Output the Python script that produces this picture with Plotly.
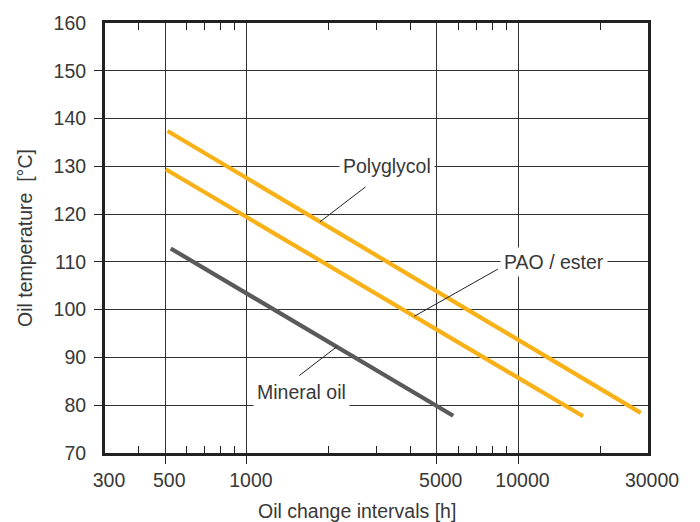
import numpy as np
import plotly.graph_objects as go

# Oil change interval vs. oil temperature for three lubricant families
poly_hours = [510, 28200]
poly_temp = [137.4, 78.4]

pao_hours = [502, 17300]
pao_temp = [129.4, 77.7]

mineral_hours = [524, 5750]
mineral_temp = [112.8, 77.8]

x_tick_vals = [300, 500, 1000, 5000, 10000, 30000]
x_tick_text = ["300", "500", "1000", "5000", "10000", "30000"]
x_major_marks = [500, 1000, 5000, 10000]
x_minor_marks = [400, 600, 700, 800, 900, 2000, 3000, 4000,
                 6000, 7000, 8000, 9000, 20000]
y_tick_vals = [70, 80, 90, 100, 110, 120, 130, 140, 150, 160]
y_major_marks = [80, 90, 100, 110, 120, 130, 140, 150]

ORANGE = "#F8B116"
GREY = "#5a5a5a"
INK = "#222222"
TEXT = "#383838"
FONT = "Liberation Sans, Arial, sans-serif"
FS = 19.5

X_RANGE = [np.log10(300), np.log10(30000)]
Y_RANGE = [70, 160]


def temp_at(hours, temps, h):
    """Temperature on a straight line in log(hours) at interval h."""
    return float(np.interp(np.log10(h), np.log10(hours), temps))


fig = go.Figure()
for hrs, tmp, col in [(poly_hours, poly_temp, ORANGE),
                      (pao_hours, pao_temp, ORANGE),
                      (mineral_hours, mineral_temp, GREY)]:
    fig.add_trace(go.Scatter(x=hrs, y=tmp, mode="lines",
                             line=dict(color=col, width=4.2),
                             showlegend=False, hoverinfo="skip"))

# transparent anchors so the tick-only overlay axes get drawn
for xa, ya in [("x2", "y"), ("x3", "y"), ("x4", "y"), ("x", "y2")]:
    fig.add_trace(go.Scatter(x=[1000], y=[100], xaxis=xa, yaxis=ya,
                             mode="markers", marker=dict(opacity=0),
                             showlegend=False, hoverinfo="skip"))

annotations = []
# series labels sitting on the grid with a white knock-out
labels = [("Polyglycol", 3285, 130), ("PAO / ester", 13540, 110),
          ("Mineral oil", 1591, 82.8)]
for txt, lx, ly in labels:
    annotations.append(dict(x=np.log10(lx), y=ly, xref="x", yref="y",
                            text=txt, showarrow=False, bgcolor="white",
                            borderpad=3, font=dict(family=FONT, size=FS, color=TEXT)))

# leader lines from each label to its curve
leaders = [(poly_hours, poly_temp, 1858, 47, -36),
           (pao_hours, pao_temp, 4133, 85, -48),
           (mineral_hours, mineral_temp, 2141, -39, 30)]
for hrs, tmp, hx, ax, ay in leaders:
    annotations.append(dict(x=np.log10(hx), y=temp_at(hrs, tmp, hx),
                            xref="x", yref="y", text="", showarrow=True,
                            arrowhead=0, arrowwidth=1, arrowcolor=INK,
                            ax=ax, ay=ay, standoff=0, startstandoff=0))

annotations.append(dict(x=0.464, y=-0.135, xref="paper", yref="paper",
                        text="Oil change intervals [h]", showarrow=False,
                        xanchor="center", yanchor="middle",
                        font=dict(family=FONT, size=FS, color=TEXT)))
annotations.append(dict(x=-0.1473, y=0.5, xref="paper", yref="paper",
                        text="Oil temperature  [°C]", showarrow=False,
                        textangle=-90, xanchor="center", yanchor="middle",
                        font=dict(family=FONT, size=FS, color=TEXT)))

common_x = dict(type="log", range=X_RANGE, showgrid=False, zeroline=False,
                showticklabels=False, showline=False, tickcolor=INK,
                tickwidth=1, overlaying="x", anchor="y")

fig.update_layout(
    width=700, height=522,
    margin=dict(l=105, r=52, t=23, b=69),
    paper_bgcolor="white", plot_bgcolor="white",
    font=dict(family=FONT, size=FS, color=TEXT),
    xaxis=dict(type="log", range=X_RANGE, tickvals=x_tick_vals,
               ticktext=x_tick_text, ticks="", showgrid=True,
               gridcolor="#333333", gridwidth=1, zeroline=False,
               showline=True, linecolor=INK, linewidth=3, mirror=True,
               ticklabelstandoff=8, ticklabelshift=4,
               tickfont=dict(family=FONT, size=FS, color=TEXT)),
    xaxis2=dict(**common_x, side="bottom", tickvals=x_major_marks,
                ticks="outside", ticklen=10),
    xaxis3=dict(**common_x, side="top", tickvals=x_minor_marks,
                ticks="inside", ticklen=7),
    xaxis4=dict(**common_x, side="bottom", tickvals=x_minor_marks,
                ticks="inside", ticklen=7),
    yaxis=dict(range=Y_RANGE, tickvals=y_tick_vals, ticks="",
               showgrid=True, gridcolor="#333333", gridwidth=1,
               zeroline=False, showline=True, linecolor=INK, linewidth=3,
               mirror=True, ticklabelstandoff=12,
               tickfont=dict(family=FONT, size=FS, color=TEXT)),
    yaxis2=dict(range=Y_RANGE, tickvals=y_major_marks, ticks="outside",
                ticklen=10, tickcolor=INK, tickwidth=1, showgrid=False,
                zeroline=False, showticklabels=False, showline=False,
                overlaying="y", anchor="x", side="left"),
    annotations=annotations,
)

fig.write_html("out.html")
